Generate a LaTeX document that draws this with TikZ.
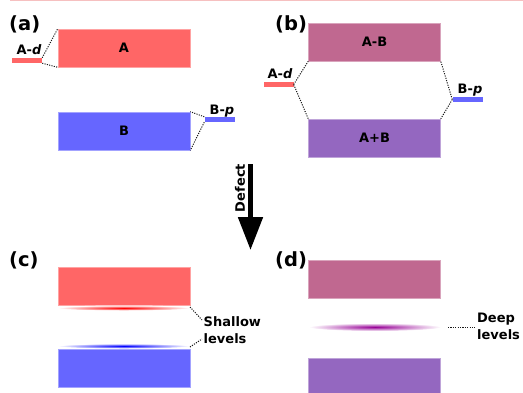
\documentclass[tikz,border=0pt]{standalone}
\usepackage{fontspec}
\setmainfont{DejaVu Sans}
\usetikzlibrary{arrows.meta}
\definecolor{cA}{RGB}{255,102,102}
\definecolor{cB}{RGB}{102,102,255}
\definecolor{cAB}{RGB}{192,104,144}
\definecolor{cApB}{RGB}{148,103,192}
\definecolor{toppink}{RGB}{246,192,192}
\definecolor{deeppurple}{RGB}{150,0,150}
\begin{document}
\begin{tikzpicture}[x=1pt,y=-1pt,
  font=\fontsize{13}{17}\selectfont\bfseries,
  band/.style={fill=#1, draw=#1!60!white, line width=0.6pt, minimum width=132pt, minimum height=38pt, inner sep=0pt},
  bar/.style={fill=#1, minimum width=30pt, minimum height=5pt, inner sep=0pt},
  dotline/.style={dash pattern=on 1.1pt off 1.3pt, line width=1pt, black!90},
  lbl/.style={inner sep=0pt, anchor=base},
  panel/.style={font=\fontsize{19.5}{22}\selectfont\bfseries, inner sep=0pt, anchor=base west}]
\useasboundingbox (0,0) rectangle (523,392);
\clip (0,0) rectangle (523,392);
\draw[toppink, line width=1pt] (10,0.5) -- (523,0.5);
% panel labels
\node[panel] (pa) at (9,30.5) {(a)};
\node[panel] (pb) at (275,30.5) {(b)};
\node[panel] (pc) at (9,266.5) {(c)};
\node[panel] (pd) at (275,266.5) {(d)};
% (a)
\node[band=cA] (A) at (124,48) {A};
\node[band=cB] (B) at (124,131) {B};
\node[bar=cA] (Ad) at (27,60.5) {};
\node[bar=cB] (Bp) at (219.5,119.5) {};
\node[lbl] (Adl) at (29,54) {A-\textit{d}};
\node[lbl] (Bpl) at (222,114) {B-\textit{p}};
\draw[dotline] (Ad.north east) -- (A.north west);
\draw[dotline] (Ad.south east) -- (A.south west);
\draw[dotline] (Bp.north west) -- (B.north east);
\draw[dotline] (Bp.south west) -- (B.south east);
% (b)
\node[band=cAB] (AB) at (374.5,42) {A-B};
\node[band=cApB] (ApB) at (374.5,138) {A+B};
\node[bar=cA] (Ad2) at (278.5,84.5) {};
\node[bar=cB] (Bp2) at (467.5,99.5) {};
\node[lbl] (Ad2l) at (280,78) {A-\textit{d}};
\node[lbl] (Bp2l) at (470,93) {B-\textit{p}};
\draw[dotline] (Ad2.east) -- (AB.south west);
\draw[dotline] (Ad2.east) -- (ApB.north west);
\draw[dotline] (Bp2.west) -- (AB.south east);
\draw[dotline] (Bp2.west) -- (ApB.north east);
% arrow
\coordinate (t1) at (250.5,164);
\coordinate (t2) at (250.5,250);
\draw[line width=5pt, -{Triangle[width=24pt,length=33pt]}] (t1) -- (t2);
\node[rotate=90, inner sep=0pt] (def) at (240,188) {Defect};
% (c)
\node[band=cA] (A3) at (124,286) {};
\node[band=cB] (B3) at (124,368) {};
\shade[inner color=red, outer color=white] (124,308) ellipse [x radius=66pt, y radius=2.5pt];
\shade[inner color=blue, outer color=white] (124,346) ellipse [x radius=66pt, y radius=2.5pt];
\node[anchor=west, align=left, inner sep=0pt] (sh) at (203.5,330.5) {Shallow\\levels};
\coordinate (e1) at (190,307);
\coordinate (e2) at (190,347);
\coordinate (s1) at (202,320);
\coordinate (s2) at (202,339);
\draw[dotline] (e1) -- (s1);
\draw[dotline] (e2) -- (s2);
% (d)
\node[band=cAB] (AB4) at (374.5,279.5) {};
\node[band=cApB] (ApB4) at (374.5,377) {};
\shade[inner color=deeppurple, outer color=white] (375,327) ellipse [x radius=66pt, y radius=4pt];
\node[anchor=west, align=left, inner sep=0pt] (dp) at (477,326.5) {Deep\\levels};
\coordinate (dl1) at (448,327);
\coordinate (dl2) at (475,327);
\draw[dotline] (dl1) -- (dl2);
\end{tikzpicture}
\end{document}
